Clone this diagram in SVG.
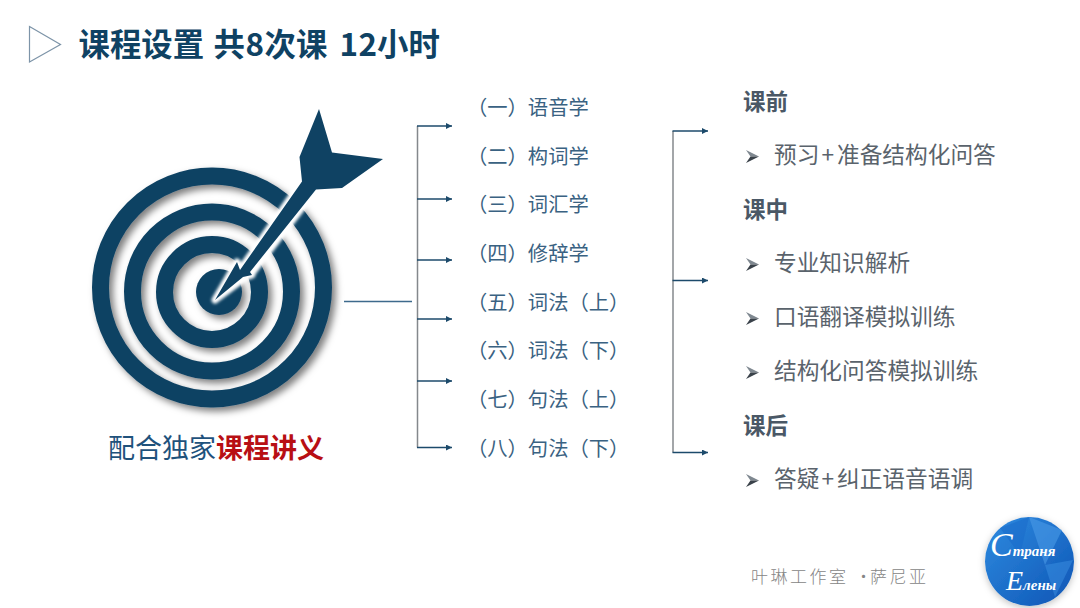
<svg xmlns="http://www.w3.org/2000/svg" width="1080" height="608" viewBox="0 0 1080 608">
<style>
text{font-family:"Noto Sans CJK SC","Noto Sans",sans-serif}
.title{font-size:31.400px;font-weight:700;fill:#0f4263}
.item{font-size:20.3px;fill:#3a6282}
.head{font-size:22.5px;font-weight:700;fill:#4a5866}
.body{font-size:22.7px;fill:#5a636c}
.v{stroke:#84888c;stroke-width:1.5;fill:none}
.h{stroke:#1c4a6b;stroke-width:1.5;fill:none;marker-end:url(#ah)}
.ring{fill:none;stroke:#0f4263}
.script{font-family:"Liberation Serif",serif;font-style:italic;fill:#fff}
</style>
<defs>
<marker id="ah" markerUnits="userSpaceOnUse" markerWidth="7" markerHeight="7" refX="6" refY="3" orient="auto"><path d="M0 0L6 3L0 6z" fill="#1c4a6b"/></marker>
<filter id="sh" x="-20%" y="-20%" width="140%" height="140%"><feDropShadow dx="4" dy="4" stdDeviation="3.5" flood-color="#000" flood-opacity="0.5"/></filter>
<filter id="glow" x="-20%" y="-20%" width="140%" height="140%"><feGaussianBlur stdDeviation="1.6"/></filter>
<linearGradient id="lg" x1="0" y1="0" x2="1" y2="1"><stop offset="0" stop-color="#2f8be0"/><stop offset="1" stop-color="#0d55b5"/></linearGradient>
<filter id="ls" x="-20%" y="-20%" width="140%" height="140%"><feDropShadow dx="0" dy="2" stdDeviation="3.500" flood-color="#000" flood-opacity="0.25"/></filter>
<g id="bullet"><path d="M0 0L13 6.500L4.500 6.500z" fill="#7f8890"/><path d="M0 13L13 6.500L4.500 6.500z" fill="#3a424a"/></g>
</defs>
<rect width="1080" height="608" fill="#fff"/>
<g id="title">
<path d="M29.500 26.500L60.500 44.500L29.500 62z" fill="#fff" stroke="#7d94a8" stroke-width="1.200"/>
<text class="title" y="56"><tspan x="78.500">课程设置</tspan><tspan x="213.500">共</tspan><tspan x="245.500">8</tspan><tspan x="264.500">次课</tspan><tspan x="339.500">1</tspan><tspan x="358.500">2</tspan><tspan x="377">小时</tspan></text>
</g>
<g id="target">
<g filter="url(#sh)">
<circle class="ring" cx="212" cy="287.500" r="111.500" stroke-width="17"/>
<circle class="ring" cx="212" cy="291.500" r="79.500" stroke-width="17"/>
<circle class="ring" cx="212" cy="292" r="47.500" stroke-width="17"/>
<circle cx="219" cy="292" r="23" fill="#0f4263"/>
</g>
<path d="M215 300L237 262L240 270L302 181.500L299.500 157L319 109L332 152.500L383 159L342 188L316 189.500L252 273L252 275L246 277z" fill="#fff" stroke="#fff" stroke-width="7" stroke-linejoin="round" filter="url(#glow)"/>
<path d="M215 300L237 262L240 270L302 181.500L299.500 157L319 109L332 152.500L383 159L342 188L316 189.500L250 272L252 275L243 277z" fill="#0f4263"/>
</g>
<g id="caption">
<text x="108" y="458" font-size="27" fill="#1f527c">配合独家<tspan font-weight="700" fill="#b80f14">课程讲义</tspan></text>
</g>
<g id="connectors">
<path d="M344 301.500H412" stroke="#3d6a8c" stroke-width="1.500" fill="none"/>
<path class="v" d="M417.500 126V447.500"/>
<path class="h" d="M417 126H452"/>
<path class="h" d="M417 199H452"/>
<path class="h" d="M417 260H452"/>
<path class="h" d="M417 319H452"/>
<path class="h" d="M417 381H452"/>
<path class="h" d="M417 447.500H452"/>
<path class="v" d="M673 131V452.500"/>
<path class="h" d="M672.500 131H708"/>
<path class="h" d="M672.500 280.500H708"/>
<path class="h" d="M672.500 452.500H708"/>
</g>
<g id="lessons">
<text class="item" x="467" y="114.500">（一）语音学</text>
<text class="item" x="467" y="163.500">（二）构词学</text>
<text class="item" x="467" y="211.500">（三）词汇学</text>
<text class="item" x="467" y="260.500">（四）修辞学</text>
<text class="item" x="467" y="309.500">（五）词法（上）</text>
<text class="item" x="467" y="357.500">（六）词法（下）</text>
<text class="item" x="467" y="406.500">（七）句法（上）</text>
<text class="item" x="467" y="455.500">（八）句法（下）</text>
</g>
<g id="stages">
<text class="head" x="743" y="110">课前</text>
<use href="#bullet" x="746" y="150"/>
<text class="body" y="163"><tspan x="774">预习</tspan><tspan x="821.500">+</tspan><tspan x="837">准备结构化问答</tspan></text>
<text class="head" x="743" y="218">课中</text>
<use href="#bullet" x="746" y="258"/>
<text class="body" x="774" y="271">专业知识解析</text>
<use href="#bullet" x="746" y="312"/>
<text class="body" x="774" y="325">口语翻译模拟训练</text>
<use href="#bullet" x="746" y="366"/>
<text class="body" x="774" y="379">结构化问答模拟训练</text>
<text class="head" x="743" y="434">课后</text>
<use href="#bullet" x="746" y="474"/>
<text class="body" y="487"><tspan x="774">答疑</tspan><tspan x="821.500">+</tspan><tspan x="837">纠正语音语调</tspan></text>
</g>
<g id="footer">
<text x="751" y="583" font-size="17" font-weight="300" letter-spacing="2.500" fill="#858585">叶琳工作室</text>
<text x="855" y="583" font-size="17" font-weight="300" fill="#858585">·</text>
<text x="870" y="583" font-size="17" font-weight="300" letter-spacing="2.500" fill="#858585">萨尼亚</text>
</g>
<g id="logo">
<circle cx="1029.500" cy="561.500" r="44.500" fill="url(#lg)" filter="url(#ls)"/>
<path d="M1029 517L1062 530L1045 565z" fill="#4a9ae6" opacity=".6"/>
<path d="M1000 528L1029 517L1020 555z" fill="#1a6ccc" opacity=".6"/>
<path d="M1045 565L1073 560L1055 597z" fill="#3b8fe2" opacity=".5"/>
<text class="script" x="990" y="556" font-size="15" font-weight="700"><tspan font-size="34" font-weight="400">С</tspan>траня</text>
<text class="script" x="1006" y="590" font-size="15" font-weight="700"><tspan font-size="28" font-weight="400">Е</tspan>лены</text>
</g>
</svg>
